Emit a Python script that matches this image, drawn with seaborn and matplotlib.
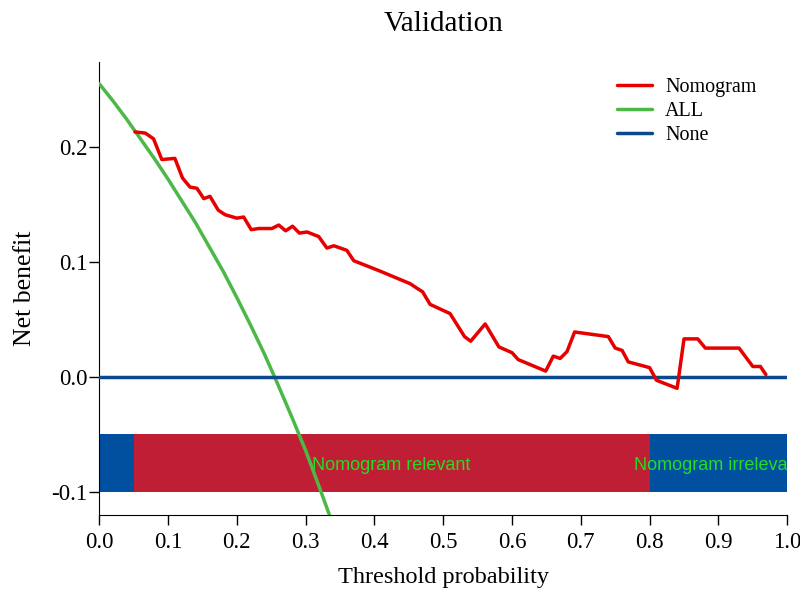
import numpy as np
import pandas as pd
import seaborn as sns
import matplotlib
matplotlib.use("Agg")
import matplotlib.pyplot as plt

# threshold / net benefit
nomo_t = [0.052, 0.067, 0.079, 0.091, 0.110, 0.121, 0.132, 0.142, 0.152, 0.161,
          0.173, 0.183, 0.200, 0.210, 0.221, 0.232, 0.251, 0.261, 0.271, 0.281,
          0.291, 0.302, 0.319, 0.331, 0.341, 0.360, 0.370, 0.408, 0.452, 0.462,
          0.470, 0.481, 0.510, 0.531, 0.540, 0.561, 0.581, 0.600, 0.609, 0.649,
          0.660, 0.670, 0.680, 0.691, 0.740, 0.750, 0.760, 0.769, 0.800, 0.810,
          0.840, 0.850, 0.870, 0.881, 0.930, 0.950, 0.961, 0.969]
nomo_nb = [0.213, 0.212, 0.207, 0.189, 0.190, 0.173, 0.165, 0.164, 0.155, 0.157,
           0.145, 0.141, 0.138, 0.139, 0.128, 0.129, 0.129, 0.132, 0.127, 0.131,
           0.125, 0.126, 0.122, 0.112, 0.114, 0.110, 0.101, 0.092, 0.081, 0.077,
           0.074, 0.063, 0.055, 0.035, 0.031, 0.046, 0.026, 0.021, 0.015, 0.005,
           0.018, 0.016, 0.022, 0.039, 0.035, 0.025, 0.023, 0.013, 0.008, -0.003,
           -0.010, 0.033, 0.033, 0.025, 0.025, 0.009, 0.009, 0.002]

all_t = [0.00, 0.02, 0.04, 0.06, 0.08, 0.10, 0.12, 0.14, 0.16, 0.18,
         0.20, 0.22, 0.24, 0.26, 0.28, 0.30, 0.32, 0.34]
all_nb = [0.255, 0.240, 0.224, 0.207, 0.190, 0.172, 0.153, 0.134, 0.113, 0.092,
          0.069, 0.045, 0.020, -0.007, -0.035, -0.064, -0.096, -0.129]

none_t = [0.0, 1.0]
none_nb = [0.0, 0.0]

# colour band below the curves
band_edges = [0.0, 0.05, 0.80, 1.0]
band_colors = ["#0150a0", "#bf1e35", "#0150a0"]
band_labels = ["", "Nomogram relevant", "Nomogram irrelevant"]

sns.set_style("ticks")
plt.rcParams["font.family"] = ["Liberation Serif", "DejaVu Serif"]
plt.rcParams["axes.unicode_minus"] = False
for key in ["text.color", "axes.labelcolor", "xtick.color", "ytick.color", "axes.edgecolor"]:
    plt.rcParams[key] = "black"

fig, ax = plt.subplots(figsize=(8, 6), dpi=100)
fig.subplots_adjust(left=0.124, right=0.984, bottom=0.142, top=0.897)

for i in range(len(band_colors)):
    left = band_edges[i]
    width = band_edges[i + 1] - band_edges[i]
    ax.barh(-0.075, width, height=0.05, left=left, color=band_colors[i],
            edgecolor="none", zorder=1)
    if band_labels[i]:
        # the last label runs past the axes and is cut, as in the original
        ax.text(left + width / 2, -0.0775, band_labels[i], color="#22dd22",
                ha="center", va="center", fontsize=13,
                family=["Liberation Sans", "DejaVu Sans"], clip_on=True, zorder=2)

sns.lineplot(x=nomo_t, y=nomo_nb, ax=ax, color="#e60000", lw=2.5,
             label="Nomogram", zorder=4)
sns.lineplot(x=all_t, y=all_nb, ax=ax, color="#4cb848", lw=2.5,
             label="ALL", zorder=3)
sns.lineplot(x=none_t, y=none_nb, ax=ax, color="#0a4a8c", lw=2.5,
             label="None", zorder=3)

ax.set_xlim(0, 1.0)
ax.set_ylim(-0.12, 0.274)
ax.set_xticks(np.arange(0, 1.01, 0.1))
ax.set_xticklabels([f"{v:.1f}" for v in np.arange(0, 1.01, 0.1)])
ax.set_yticks([-0.1, 0.0, 0.1, 0.2])
ax.set_yticklabels(["-0.1", "0.0", "0.1", "0.2"])
ax.tick_params(labelsize=16.5, length=7.5, width=1, direction="out")
ax.tick_params(axis="x", pad=5)
ax.tick_params(axis="y", pad=1)
ax.set_xlabel("Threshold probability", fontsize=17.5, labelpad=10)
ax.set_ylabel("Net benefit", fontsize=18.5, labelpad=11)
ax.set_title("Validation", fontsize=21, pad=22)
sns.despine(ax=ax)

ax.legend(loc="upper left", frameon=False, fontsize=14.5,
          handlelength=1.75, handletextpad=0.65, labelspacing=0.25,
          borderpad=0, borderaxespad=0,
          bbox_to_anchor=(0.771, 0.870), bbox_transform=fig.transFigure)

fig.savefig("out.png", dpi=100)
